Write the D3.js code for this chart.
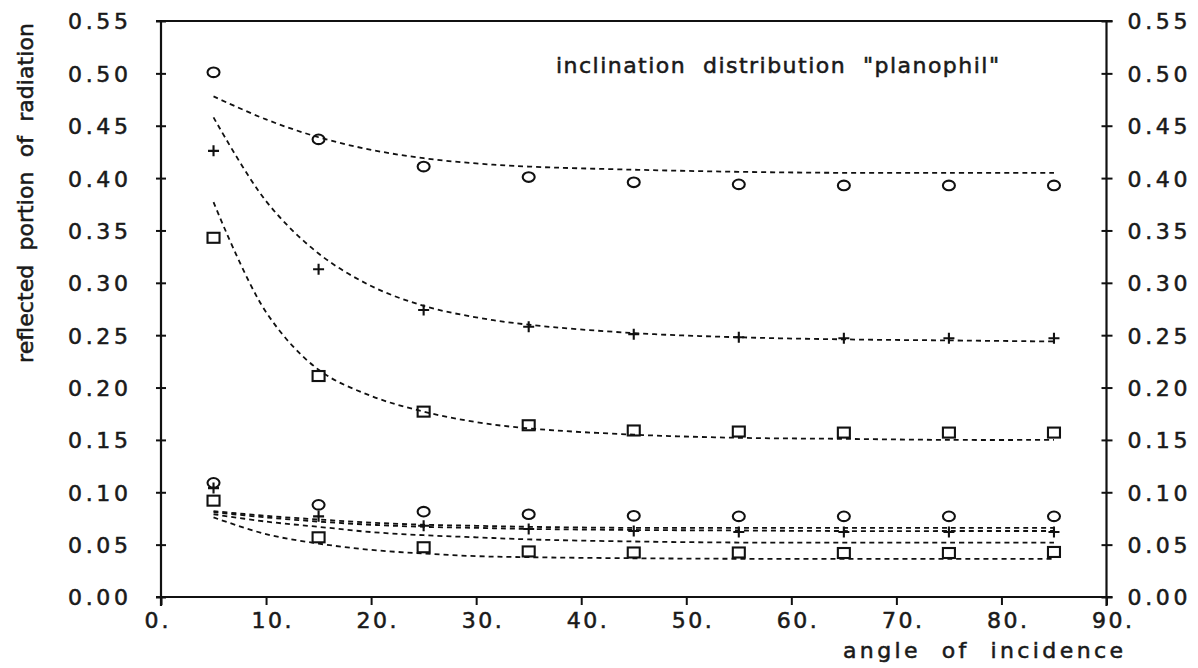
<!DOCTYPE html>
<html>
<head>
<meta charset="utf-8">
<script src="https://cdn.jsdelivr.net/npm/d3@7"></script>
<style>
  html, body { margin: 0; padding: 0; background: #fff; }
  svg { display: block; }
  text { font-family: "DejaVu Sans", sans-serif; fill: #1a1a1a; stroke: #1a1a1a; stroke-width: 0.55px; white-space: pre; }
</style>
</head>
<body>
<svg id="chart" width="1198" height="668"></svg>
<script>
// Angles of incidence at which reflectance was computed
const angles = [5, 15, 25, 35, 45, 55, 65, 75, 85];

// Measured reflected portions (upper group)
const circlesHigh = [0.501, 0.437, 0.411, 0.401, 0.396, 0.394, 0.393, 0.393, 0.393];
const crossesHigh = [0.426, 0.313, 0.274, 0.258, 0.251, 0.248, 0.247, 0.247, 0.247];
const squaresHigh = [0.343, 0.211, 0.177, 0.164, 0.159, 0.158, 0.157, 0.157, 0.157];

// Measured reflected portions (lower group)
const circlesLow = [0.109, 0.088, 0.0815, 0.079, 0.0775, 0.077, 0.077, 0.077, 0.077];
const crossesLow = [0.104, 0.077, 0.068, 0.065, 0.063, 0.062, 0.062, 0.062, 0.062];
const squaresLow = [0.092, 0.057, 0.0475, 0.0435, 0.0425, 0.0425, 0.042, 0.042, 0.043];

// Model curves (dashed), sampled at these angles
const curveAngles = [5, 10, 15, 20, 25, 30, 35, 45, 55, 65, 75, 85];
const modelCircleHigh = [0.478, 0.456, 0.439, 0.427, 0.419, 0.414, 0.411, 0.408, 0.406, 0.405, 0.405, 0.405];
const modelCrossHigh  = [0.458, 0.378, 0.328, 0.297, 0.278, 0.267, 0.260, 0.252, 0.248, 0.246, 0.245, 0.244];
const modelSquareHigh = [0.377, 0.272, 0.217, 0.192, 0.177, 0.167, 0.161, 0.155, 0.152, 0.151, 0.150, 0.150];
const modelLowA = [0.082, 0.0775, 0.074, 0.071, 0.069, 0.068, 0.067, 0.066, 0.066, 0.066, 0.066, 0.066];
const modelLowB = [0.081, 0.076, 0.072, 0.069, 0.067, 0.066, 0.065, 0.064, 0.0635, 0.063, 0.063, 0.063];
const modelLowC = [0.079, 0.072, 0.067, 0.062, 0.059, 0.057, 0.055, 0.053, 0.052, 0.052, 0.052, 0.052];
const modelLowD = [0.076, 0.060, 0.051, 0.045, 0.0415, 0.039, 0.038, 0.037, 0.0365, 0.0365, 0.0365, 0.0365];

// Axis ticks and labels
const xTicks = [0, 10, 20, 30, 40, 50, 60, 70, 80, 90];
const yTicks = [0, 0.05, 0.10, 0.15, 0.20, 0.25, 0.30, 0.35, 0.40, 0.45, 0.50, 0.55];
const xTitle = "angle  of  incidence";
const yTitle = "reflected  portion  of  radiation";
const note = "inclination  distribution  \"planophil\"";

const svg = d3.select("#chart");
const ink = "#111";
const fontSize = 22;

const x = d3.scaleLinear().domain([0, 90]).range([161, 1106.5]);
const y = d3.scaleLinear().domain([0, 0.55]).range([597, 21]);

// Frame: left, right, top, bottom
const frame = svg.append("g").attr("stroke", ink).attr("fill", "none");
frame.append("line").attr("x1", x(0)).attr("x2", x(0)).attr("y1", y(0.55)).attr("y2", y(0) + 9).attr("stroke-width", 2.2);
frame.append("line").attr("x1", x(90)).attr("x2", x(90)).attr("y1", y(0.55)).attr("y2", y(0) + 9).attr("stroke-width", 2.2);
frame.append("line").attr("x1", x(0) - 5).attr("x2", x(90) + 6).attr("y1", y(0.55)).attr("y2", y(0.55)).attr("stroke-width", 1.8);
frame.append("line").attr("x1", x(0) - 5).attr("x2", x(90) + 6).attr("y1", y(0)).attr("y2", y(0)).attr("stroke-width", 2);

// Left axis
const fmtY = d3.format(".2f");
const left = svg.append("g")
  .attr("transform", `translate(${x(0)},0)`)
  .call(d3.axisLeft(y).tickValues(yTicks).tickSize(5).tickFormat(fmtY));
left.select(".domain").remove();
left.selectAll(".tick line").attr("x1", -5).attr("x2", 5).attr("stroke", ink).attr("stroke-width", 2);
left.selectAll(".tick text")
  .attr("x", -33).attr("dy", "0.36em")
  .attr("font-size", fontSize).attr("fill", "#1a1a1a")
  .attr("textLength", 60).attr("lengthAdjust", "spacing")
  .style("font-family", "DejaVu Sans");

// Right axis
const right = svg.append("g")
  .attr("transform", `translate(${x(90)},0)`)
  .call(d3.axisRight(y).tickValues(yTicks).tickSize(5).tickFormat(fmtY));
right.select(".domain").remove();
right.selectAll(".tick line").attr("x1", -5).attr("x2", 6).attr("stroke", ink).attr("stroke-width", 2);
right.selectAll(".tick text")
  .attr("x", 21).attr("dy", "0.36em")
  .attr("font-size", fontSize).attr("fill", "#1a1a1a")
  .attr("textLength", 60).attr("lengthAdjust", "spacing")
  .style("font-family", "DejaVu Sans");

// Bottom axis
const bottom = svg.append("g")
  .attr("transform", `translate(0,${y(0)})`)
  .call(d3.axisBottom(x).tickValues(xTicks).tickSize(8).tickFormat(d => d + "."));
bottom.select(".domain").remove();
bottom.selectAll(".tick line").attr("stroke", ink).attr("stroke-width", 2);
bottom.selectAll(".tick text")
  .attr("y", 31).attr("dy", 0)
  .attr("dx", d => d === 0 ? -5 : 5)
  .attr("font-size", fontSize).attr("fill", "#1a1a1a")
  .attr("textLength", d => d === 0 ? 24 : 40).attr("lengthAdjust", "spacing")
  .style("font-family", "DejaVu Sans");

// Titles
svg.append("text")
  .attr("x", 843).attr("y", 658)
  .attr("font-size", fontSize)
  .attr("textLength", 280).attr("lengthAdjust", "spacing")
  .text(xTitle);

svg.append("text")
  .attr("transform", "translate(33,193) rotate(-90)")
  .attr("text-anchor", "middle")
  .attr("font-size", fontSize)
  .attr("textLength", 340).attr("lengthAdjust", "spacing")
  .text(yTitle);

svg.append("text")
  .attr("x", 556).attr("y", 73)
  .attr("font-size", fontSize)
  .attr("textLength", 443).attr("lengthAdjust", "spacing")
  .text(note);

// Dashed model curves
const line = d3.line()
  .x((d, i) => x(curveAngles[i]))
  .y(d => y(d))
  .curve(d3.curveCatmullRom.alpha(0.5));

const models = [modelCircleHigh, modelCrossHigh, modelSquareHigh, modelLowA, modelLowB, modelLowC, modelLowD];
svg.append("g")
  .selectAll("path")
  .data(models)
  .join("path")
  .attr("d", line)
  .attr("fill", "none")
  .attr("stroke", ink)
  .attr("stroke-width", 1.8)
  .attr("stroke-dasharray", "5 4");

// Markers
const marks = svg.append("g").attr("fill", "none").attr("stroke", ink).attr("stroke-width", 2.1);

function drawCircles(values) {
  marks.append("g").selectAll("ellipse")
    .data(values)
    .join("ellipse")
    .attr("cx", (d, i) => x(angles[i]))
    .attr("cy", d => y(d))
    .attr("rx", 6).attr("ry", 4.8);
}
function drawSquares(values) {
  marks.append("g").selectAll("rect")
    .data(values)
    .join("rect")
    .attr("x", (d, i) => x(angles[i]) - 6)
    .attr("y", d => y(d) - 5)
    .attr("width", 12).attr("height", 10);
}
function drawCrosses(values) {
  marks.append("g").selectAll("path")
    .data(values)
    .join("path")
    .attr("d", (d, i) => {
      const cx = x(angles[i]), cy = y(d);
      return `M${cx - 5.5},${cy}H${cx + 5.5}M${cx},${cy - 5.5}V${cy + 5.5}`;
    });
}

drawCircles(circlesHigh);
drawCrosses(crossesHigh);
drawSquares(squaresHigh);
drawCircles(circlesLow);
drawCrosses(crossesLow);
drawSquares(squaresLow);
</script>
</body>
</html>
